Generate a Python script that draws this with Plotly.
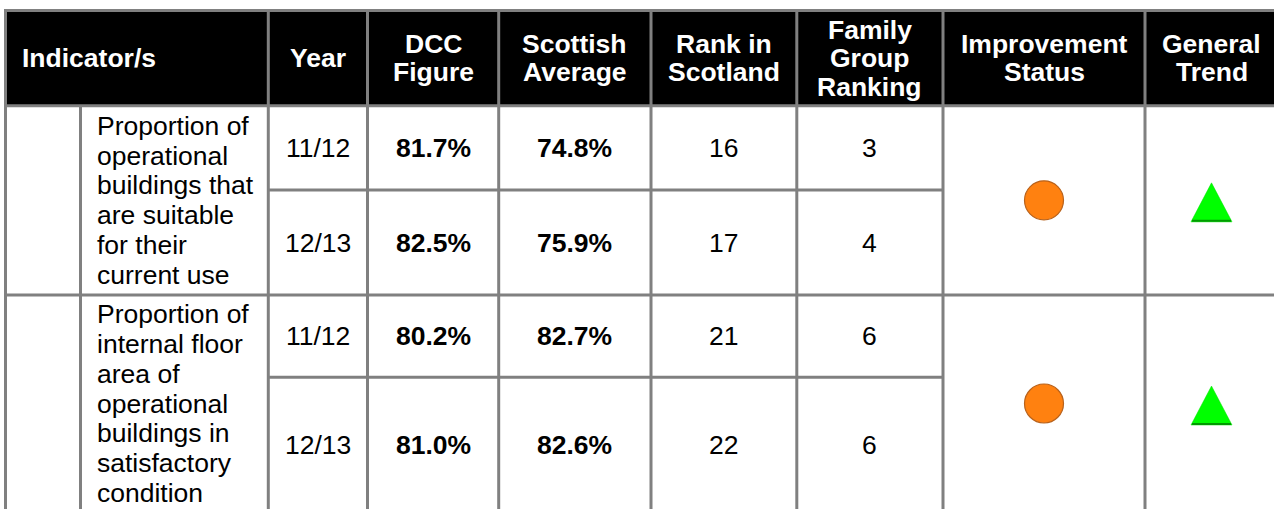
import plotly.graph_objects as go

# ---------------- data ----------------
header_lines = [["Indicator/s"], ["Year"], ["DCC", "Figure"], ["Scottish", "Average"],
                ["Rank in", "Scotland"], ["Family", "Group", "Ranking"],
                ["Improvement", "Status"], ["General", "Trend"]]
indicator_lines = [
    ["Proportion of", "operational", "buildings that", "are suitable", "for their", "current use"],
    ["Proportion of", "internal floor", "area of", "operational", "buildings in", "satisfactory", "condition"],
]
years = ["11/12", "12/13", "11/12", "12/13"]
dcc_figure = ["81.7%", "82.5%", "80.2%", "81.0%"]
scottish_average = ["74.8%", "75.9%", "82.7%", "82.6%"]
rank_in_scotland = [16, 17, 21, 22]
family_group_ranking = [3, 4, 6, 6]
improvement_status = ["amber", "amber"]
general_trend = ["up", "up"]

# ---------------- layout constants ----------------
W, H = 1274, 509
FONT = "Liberation Sans, Arial, Helvetica, sans-serif"
FS = 26.5
GRID = "#808080"
BW = 3
col_x = [5.5, 80.5, 268.3, 367.5, 498.7, 651.0, 796.8, 943.0, 1145.0, 1278.0]
top_y, head_y = 10.5, 105.7
row_y = [head_y, 190.0, 295.0, 377.3, 512.0]
group_y = [head_y, 295.0, 512.0]
HEAD_LS = 28.5
BODY_LS = 29.8

fig = go.Figure()
shapes = []
annotations = []

# header background
shapes.append(dict(type="rect", xref="x", yref="y", x0=col_x[0], x1=col_x[-1], y0=top_y, y1=head_y,
                   fillcolor="black", line=dict(width=0), layer="below"))

# header text
head_center = (top_y + head_y) / 2
for ci, lines in enumerate(header_lines):
    n = len(lines)
    if ci == 0:
        x, xa = 20, "left"
    else:
        x, xa = (col_x[ci + 1] + col_x[ci + 2]) / 2, "center"
    for i, t in enumerate(lines):
        annotations.append(dict(x=x, y=head_center + (i - (n - 1) / 2) * HEAD_LS, xref="x", yref="y",
                                text="<b>%s</b>" % t, showarrow=False, xanchor=xa, yanchor="middle",
                                font=dict(family=FONT, size=FS, color="white")))

# indicator text
for g, lines in enumerate(indicator_lines):
    n = len(lines)
    c = (group_y[g] + group_y[g + 1]) / 2
    for i, t in enumerate(lines):
        annotations.append(dict(x=95, y=c + (i - (n - 1) / 2) * BODY_LS, xref="x", yref="y",
                                text=t, showarrow=False, xanchor="left", yanchor="middle",
                                font=dict(family=FONT, size=FS, color="black")))

# data cells
columns = [(years, False), (dcc_figure, True), (scottish_average, True),
           (rank_in_scotland, False), (family_group_ranking, False)]
for k, (vals, bold) in enumerate(columns):
    cx = (col_x[k + 2] + col_x[k + 3]) / 2
    for r, v in enumerate(vals):
        cy = (row_y[r] + row_y[r + 1]) / 2
        t = "<b>%s</b>" % v if bold else str(v)
        annotations.append(dict(x=cx, y=cy, xref="x", yref="y", text=t, showarrow=False,
                                xanchor="center", yanchor="middle",
                                font=dict(family=FONT, size=FS, color="black")))

# improvement status icons
status_colors = {"amber": "#FF8110", "red": "#E02020", "green": "#20C020"}
sx = (col_x[7] + col_x[8]) / 2
fig.add_trace(go.Scatter(
    x=[sx] * len(improvement_status),
    y=[(group_y[g] + group_y[g + 1]) / 2 for g in range(len(improvement_status))],
    mode="markers", hoverinfo="skip", showlegend=False,
    marker=dict(symbol="circle", size=39, color=[status_colors[s] for s in improvement_status],
                line=dict(color="#B8621C", width=1.2))))

# general trend icons
tx = (col_x[8] + col_x[9]) / 2
TW, TH = 41, 39
for g, tr in enumerate(general_trend):
    cy = (group_y[g] + group_y[g + 1]) / 2 + 2
    if tr == "up":
        xs = [tx - TW / 2, tx, tx + TW / 2, tx - TW / 2]
        ys = [cy + TH / 2, cy - TH / 2, cy + TH / 2, cy + TH / 2]
    else:
        xs = [tx - TW / 2, tx, tx + TW / 2, tx - TW / 2]
        ys = [cy - TH / 2, cy + TH / 2, cy - TH / 2, cy - TH / 2]
    fig.add_trace(go.Scatter(x=xs, y=ys, mode="lines", fill="toself", fillcolor="#00FF00",
                             line=dict(color="#00E000", width=0.5), hoverinfo="skip", showlegend=False))
    fig.add_trace(go.Scatter(x=[xs[0] + 1, xs[2] - 1], y=[ys[0] - 1, ys[2] - 1], mode="lines",
                             line=dict(color="#009A00", width=2), hoverinfo="skip", showlegend=False))

# grid lines
def hline(y, x0, x1):
    shapes.append(dict(type="line", xref="x", yref="y", x0=x0, x1=x1, y0=y, y1=y,
                       line=dict(color=GRID, width=BW), layer="above"))

def vline(x, y0, y1):
    shapes.append(dict(type="line", xref="x", yref="y", x0=x, x1=x, y0=y0, y1=y1,
                       line=dict(color=GRID, width=BW), layer="above"))

hline(top_y, col_x[0] - 1.5, col_x[-1] + 1.5)
hline(head_y, col_x[0] - 1.5, col_x[-1] + 1.5)
for g in range(1, len(group_y)):
    hline(group_y[g], col_x[0] - 1.5, col_x[-1] + 1.5)
for r in (1, 3):
    hline(row_y[r], col_x[2], col_x[7])
for i, x in enumerate(col_x):
    if i == 1:
        vline(x, head_y, group_y[-1])
    else:
        vline(x, top_y - 1.5, group_y[-1])

fig.update_layout(
    width=W, height=H, margin=dict(l=0, r=0, t=0, b=0),
    paper_bgcolor="white", plot_bgcolor="white",
    xaxis=dict(range=[0, W], visible=False, fixedrange=True),
    yaxis=dict(range=[H, 0], visible=False, fixedrange=True),
    shapes=shapes, annotations=annotations, showlegend=False,
)

fig.write_html("out.html", config={"displayModeBar": False},
               post_script="document.body.style.margin='0';document.body.style.overflow='hidden';")
